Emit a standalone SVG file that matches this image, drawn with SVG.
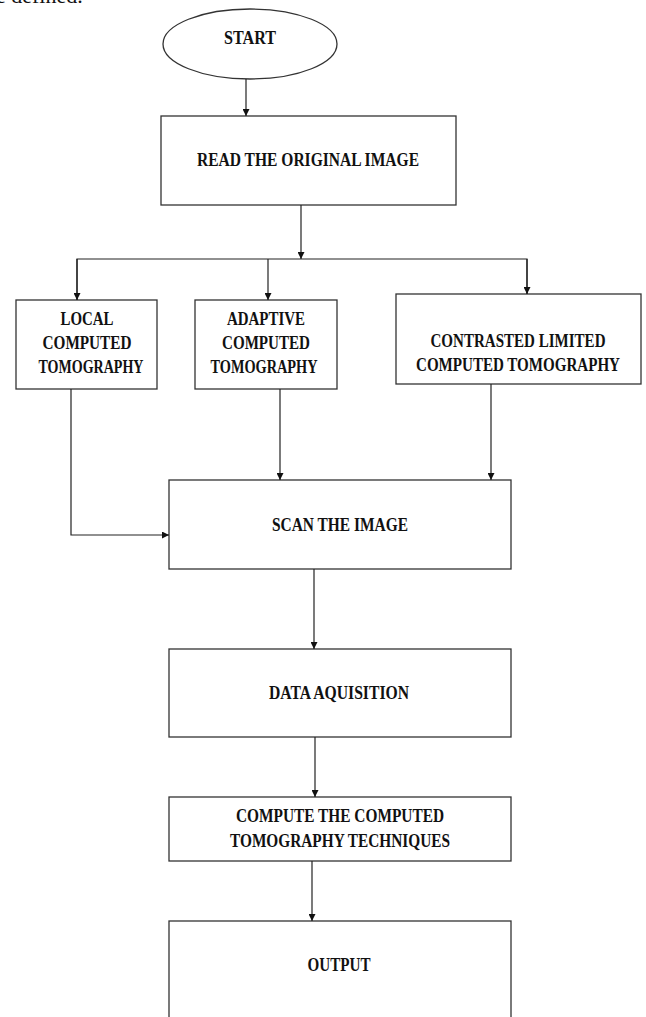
<svg xmlns="http://www.w3.org/2000/svg" width="646" height="1017" viewBox="0 0 646 1017">
<defs>
<marker id="arr" viewBox="0 0 10 10" refX="10" refY="5" markerWidth="7" markerHeight="7" markerUnits="userSpaceOnUse" orient="auto">
<path d="M0,0 L10,5 L0,10 Z" fill="#111"/>
</marker>
<style>
.box{fill:#fff;stroke:#333;stroke-width:1.3}
.t{font-family:"Liberation Serif","Times New Roman",serif;font-weight:bold;font-size:18px;fill:#111;text-anchor:middle}
.c{fill:none;stroke:#222;stroke-width:1.2}
.b{font-family:"Liberation Serif","Times New Roman",serif;font-size:22px;fill:#111}
</style>
</defs>
<rect width="646" height="1017" fill="#fff"/>
<text class="b" x="-4" y="3">e defined.</text>
<g id="start">
<ellipse class="box" cx="250" cy="44" rx="87" ry="35"/>
<text class="t" x="250" y="44" textLength="52" lengthAdjust="spacingAndGlyphs">START</text>
</g>
<g id="read">
<rect class="box" x="161" y="116" width="295" height="89"/>
<text class="t" x="308" y="166" textLength="222" lengthAdjust="spacingAndGlyphs">READ THE ORIGINAL IMAGE</text>
</g>
<g id="local">
<rect class="box" x="16" y="300" width="141" height="89"/>
<text class="t" x="87" y="325" textLength="53" lengthAdjust="spacingAndGlyphs">LOCAL</text>
<text class="t" x="87" y="349" textLength="89" lengthAdjust="spacingAndGlyphs">COMPUTED</text>
<text class="t" x="91" y="373" textLength="105" lengthAdjust="spacingAndGlyphs">TOMOGRAPHY</text>
</g>
<g id="adaptive">
<rect class="box" x="195" y="300" width="142" height="89"/>
<text class="t" x="266" y="325" textLength="78" lengthAdjust="spacingAndGlyphs">ADAPTIVE</text>
<text class="t" x="266" y="349" textLength="88" lengthAdjust="spacingAndGlyphs">COMPUTED</text>
<text class="t" x="264" y="373" textLength="107" lengthAdjust="spacingAndGlyphs">TOMOGRAPHY</text>
</g>
<g id="contrasted">
<rect class="box" x="396" y="294" width="245" height="90"/>
<text class="t" x="518" y="347" textLength="175" lengthAdjust="spacingAndGlyphs">CONTRASTED LIMITED</text>
<text class="t" x="518" y="371" textLength="204" lengthAdjust="spacingAndGlyphs">COMPUTED TOMOGRAPHY</text>
</g>
<g id="scan">
<rect class="box" x="169" y="480" width="342" height="89"/>
<text class="t" x="340" y="531" textLength="136" lengthAdjust="spacingAndGlyphs">SCAN THE IMAGE</text>
</g>
<g id="data">
<rect class="box" x="169" y="649" width="342" height="88"/>
<text class="t" x="339" y="699" textLength="140" lengthAdjust="spacingAndGlyphs">DATA AQUISITION</text>
</g>
<g id="compute">
<rect class="box" x="169" y="797" width="342" height="64"/>
<text class="t" x="340" y="822" textLength="208" lengthAdjust="spacingAndGlyphs">COMPUTE THE COMPUTED</text>
<text class="t" x="340" y="847" textLength="220" lengthAdjust="spacingAndGlyphs">TOMOGRAPHY TECHNIQUES</text>
</g>
<g id="output">
<rect class="box" x="169" y="921" width="342" height="110"/>
<text class="t" x="339" y="971" textLength="63" lengthAdjust="spacingAndGlyphs">OUTPUT</text>
</g>
<g id="connectors">
<line class="c" x1="246" y1="79" x2="246" y2="116" marker-end="url(#arr)"/>
<line class="c" x1="301" y1="205" x2="301" y2="259" marker-end="url(#arr)"/>
<polyline class="c" points="77,300 77,259 527,259 527,294"/>
<line class="c" x1="77" y1="259" x2="77" y2="300" marker-end="url(#arr)"/>
<line class="c" x1="268" y1="259" x2="268" y2="300" marker-end="url(#arr)"/>
<line class="c" x1="527" y1="259" x2="527" y2="294" marker-end="url(#arr)"/>
<polyline class="c" points="71,389 71,535 169,535" marker-end="url(#arr)"/>
<line class="c" x1="280" y1="389" x2="280" y2="480" marker-end="url(#arr)"/>
<line class="c" x1="491" y1="384" x2="491" y2="480" marker-end="url(#arr)"/>
<line class="c" x1="314" y1="569" x2="314" y2="649" marker-end="url(#arr)"/>
<line class="c" x1="315" y1="737" x2="315" y2="797" marker-end="url(#arr)"/>
<line class="c" x1="312" y1="861" x2="312" y2="921" marker-end="url(#arr)"/>
</g>
</svg>
